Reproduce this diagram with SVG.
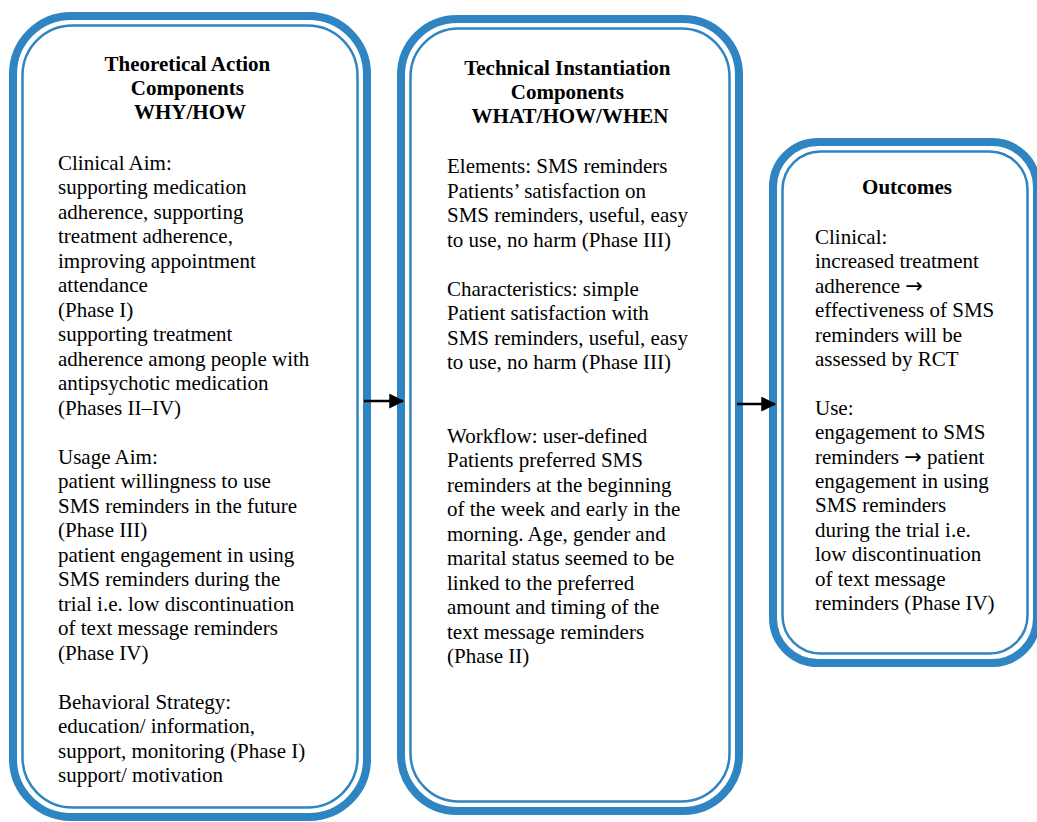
<svg xmlns="http://www.w3.org/2000/svg" width="1037" height="822" viewBox="0 0 1037 822">
<style>
.outer{fill:#fff;stroke:#2f84c2;stroke-width:8}
.inner{fill:none;stroke:#2f84c2;stroke-width:2.5}
.t{font-family:"Liberation Serif","Times New Roman",serif;font-size:21px;fill:#000}
.b{font-weight:bold}
.ar{font-family:"DejaVu Sans",sans-serif;font-size:21px}
.conn{stroke:#000;stroke-width:2.5;fill:none}
</style>
<defs>
<marker id="ah" markerWidth="6" markerHeight="6" refX="5.5" refY="3" orient="auto" markerUnits="strokeWidth">
<path d="M0,0 L6,3 L0,6 z" fill="#000"/>
</marker>
</defs>
<rect width="1037" height="822" fill="#fff"/>

<g id="node-theoretical">
<rect class="outer" x="13" y="16" width="354" height="801" rx="58"/>
<rect class="inner" x="22.5" y="25.5" width="335" height="782" rx="50"/>
<text class="t b" text-anchor="middle">
<tspan x="190" y="71">Theoretical Action</tspan>
<tspan x="190" y="95">Components</tspan>
<tspan x="190" y="119">WHY/HOW</tspan>
</text>
<text class="t">
<tspan x="58" y="170">Clinical Aim:</tspan>
<tspan x="58" dy="24.48">supporting medication</tspan>
<tspan x="58" dy="24.48">adherence, supporting</tspan>
<tspan x="58" dy="24.48">treatment adherence,</tspan>
<tspan x="58" dy="24.48">improving appointment</tspan>
<tspan x="58" dy="24.48">attendance</tspan>
<tspan x="58" dy="24.48">(Phase I)</tspan>
<tspan x="58" dy="24.48">supporting treatment</tspan>
<tspan x="58" dy="24.48">adherence among people with</tspan>
<tspan x="58" dy="24.48">antipsychotic medication</tspan>
<tspan x="58" dy="24.48">(Phases II–IV)</tspan>
<tspan x="58" dy="48.96">Usage Aim:</tspan>
<tspan x="58" dy="24.48">patient willingness to use</tspan>
<tspan x="58" dy="24.48">SMS reminders in the future</tspan>
<tspan x="58" dy="24.48">(Phase III)</tspan>
<tspan x="58" dy="24.48">patient engagement in using</tspan>
<tspan x="58" dy="24.48">SMS reminders during the</tspan>
<tspan x="58" dy="24.48">trial i.e. low discontinuation</tspan>
<tspan x="58" dy="24.48">of text message reminders</tspan>
<tspan x="58" dy="24.48">(Phase IV)</tspan>
<tspan x="58" dy="48.96">Behavioral Strategy:</tspan>
<tspan x="58" dy="24.48">education/ information,</tspan>
<tspan x="58" dy="24.48">support, monitoring (Phase I)</tspan>
<tspan x="58" dy="24.48">support/ motivation</tspan>
</text>
</g>

<g id="node-technical">
<rect class="outer" x="401" y="19" width="338" height="792" rx="56"/>
<rect class="inner" x="410.5" y="28.5" width="319" height="773" rx="48"/>
<text class="t b" text-anchor="middle">
<tspan x="570" y="75">Technical Instantiation</tspan>
<tspan x="570" y="99">Components</tspan>
<tspan x="570" y="123">WHAT/HOW/WHEN</tspan>
</text>
<text class="t">
<tspan x="447" y="173">Elements: SMS reminders</tspan>
<tspan x="447" dy="24.5">Patients’ satisfaction on</tspan>
<tspan x="447" dy="24.5">SMS reminders, useful, easy</tspan>
<tspan x="447" dy="24.5">to use, no harm (Phase III)</tspan>
<tspan x="447" dy="49">Characteristics: simple</tspan>
<tspan x="447" dy="24.5">Patient satisfaction with</tspan>
<tspan x="447" dy="24.5">SMS reminders, useful, easy</tspan>
<tspan x="447" dy="24.5">to use, no harm (Phase III)</tspan>
<tspan x="447" dy="73.5">Workflow: user-defined</tspan>
<tspan x="447" dy="24.5">Patients preferred SMS</tspan>
<tspan x="447" dy="24.5">reminders at the beginning</tspan>
<tspan x="447" dy="24.5">of the week and early in the</tspan>
<tspan x="447" dy="24.5">morning. Age, gender and</tspan>
<tspan x="447" dy="24.5">marital status seemed to be</tspan>
<tspan x="447" dy="24.5">linked to the preferred</tspan>
<tspan x="447" dy="24.5">amount and timing of the</tspan>
<tspan x="447" dy="24.5">text message reminders</tspan>
<tspan x="447" dy="24.5">(Phase II)</tspan>
</text>
</g>

<g id="node-outcomes">
<rect class="outer" x="773" y="142" width="264" height="521" rx="45"/>
<rect class="inner" x="782.5" y="151.5" width="245" height="502" rx="38"/>
<text class="t b" text-anchor="middle" x="907" y="194">Outcomes</text>
<text class="t">
<tspan x="815" y="244">Clinical:</tspan>
<tspan x="815" dy="24.4">increased treatment</tspan>
<tspan x="815" dy="24.4">adherence <tspan class="ar">→</tspan></tspan>
<tspan x="815" dy="24.4">effectiveness of SMS</tspan>
<tspan x="815" dy="24.4">reminders will be</tspan>
<tspan x="815" dy="24.4">assessed by RCT</tspan>
<tspan x="815" dy="48.8">Use:</tspan>
<tspan x="815" dy="24.4">engagement to SMS</tspan>
<tspan x="815" dy="24.4">reminders <tspan class="ar">→</tspan> patient</tspan>
<tspan x="815" dy="24.4">engagement in using</tspan>
<tspan x="815" dy="24.4">SMS reminders</tspan>
<tspan x="815" dy="24.4">during the trial i.e.</tspan>
<tspan x="815" dy="24.4">low discontinuation</tspan>
<tspan x="815" dy="24.4">of text message</tspan>
<tspan x="815" dy="24.4">reminders (Phase IV)</tspan>
</text>
</g>

<g id="connectors">
<line class="conn" x1="364" y1="401" x2="403" y2="401" marker-end="url(#ah)"/>
<line class="conn" x1="737" y1="404" x2="775" y2="404" marker-end="url(#ah)"/>
</g>
</svg>
